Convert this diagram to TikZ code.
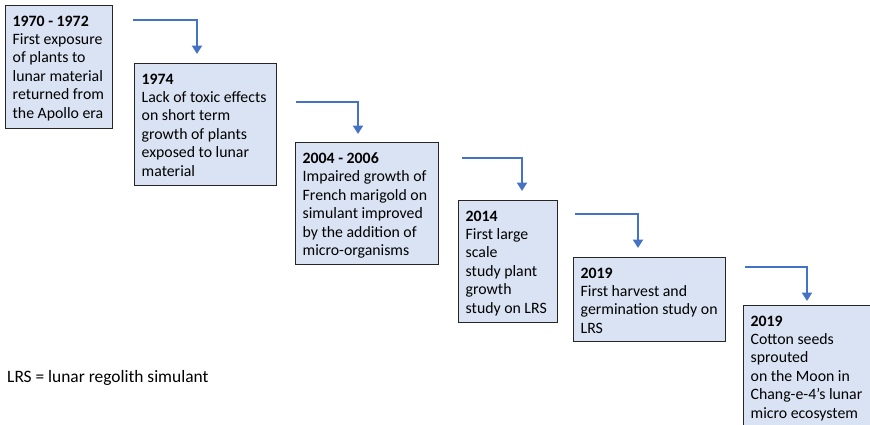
\documentclass[tikz,border=0pt]{standalone}
\usepackage{fontspec}
\setmainfont{Carlito}
\usetikzlibrary{arrows.meta}
\definecolor{boxfill}{HTML}{DAE3F3}
\definecolor{boxline}{HTML}{262626}
\definecolor{arrowblue}{HTML}{4472C4}
\tikzset{
  evbox/.style={draw=boxline, fill=boxfill, line width=0.9pt},
  evtext/.style={anchor=north west, inner sep=0pt, align=left, font=\fontsize{15.8}{18.4}\selectfont},
  flow/.style={draw=arrowblue, line width=2.4pt, -{Triangle[width=10pt,length=8.5pt]}}
}
\begin{document}
\begin{tikzpicture}[x=1pt,y=-1pt]
\clip (0,0) rectangle (870,424);
\fill[white] (0,0) rectangle (870,424);
% boxes
\path[evbox] (5,5) rectangle (112,128);
\coordinate (b1) at (5,5);
\path[evbox] (134,63) rectangle (276,185);
\coordinate (b2) at (134,63);
\path[evbox] (295,142) rectangle (438,264);
\coordinate (b3) at (295,142);
\path[evbox] (458,200) rectangle (557,322);
\coordinate (b4) at (458,200);
\path[evbox] (573,257) rectangle (725,341);
\coordinate (b5) at (573,257);
\path[evbox] (743,305) rectangle (890,450);
\coordinate (b6) at (743,305);
% texts
\node[evtext] (t1) at ([shift={(7.5,10.5)}]b1) {\textbf{1970 - 1972}\\First exposure\\of plants to\\lunar material\\returned from\\the Apollo era};
\node[evtext] (t2) at ([shift={(7.5,10.5)}]b2) {\textbf{1974}\\Lack of toxic effects\\on short term\\growth of plants\\exposed to lunar\\material};
\node[evtext] (t3) at ([shift={(7.5,10.5)}]b3) {\textbf{2004 - 2006}\\Impaired growth of\\French marigold on\\simulant improved\\by the addition of\\micro-organisms};
\node[evtext] (t4) at ([shift={(7.5,10.5)}]b4) {\textbf{2014}\\First large\\scale\\study plant\\growth\\study on LRS};
\node[evtext] (t5) at ([shift={(7.5,10.5)}]b5) {\textbf{2019}\\First harvest and\\germination study on\\LRS};
\node[evtext] (t6) at ([shift={(7.5,10.5)}]b6) {\textbf{2019}\\Cotton seeds\\sprouted\\on the Moon in\\Chang-e-4’s lunar\\micro ecosystem};
% arrows
\coordinate (s1) at (133,20);  \coordinate (e1) at (197,54);
\coordinate (s2) at (296,102); \coordinate (e2) at (358,134);
\coordinate (s3) at (462,158); \coordinate (e3) at (522,191);
\coordinate (s4) at (575,214); \coordinate (e4) at (638,248);
\coordinate (s5) at (745,267); \coordinate (e5) at (807,301);
\foreach \i in {1,...,5} {\draw[flow] (s\i) -| (e\i);}
% legend
\node[anchor=base west, inner sep=0pt, font=\fontsize{17.4}{20}\selectfont] (legend) at (7,382) {LRS = lunar regolith simulant};
\end{tikzpicture}
\end{document}
